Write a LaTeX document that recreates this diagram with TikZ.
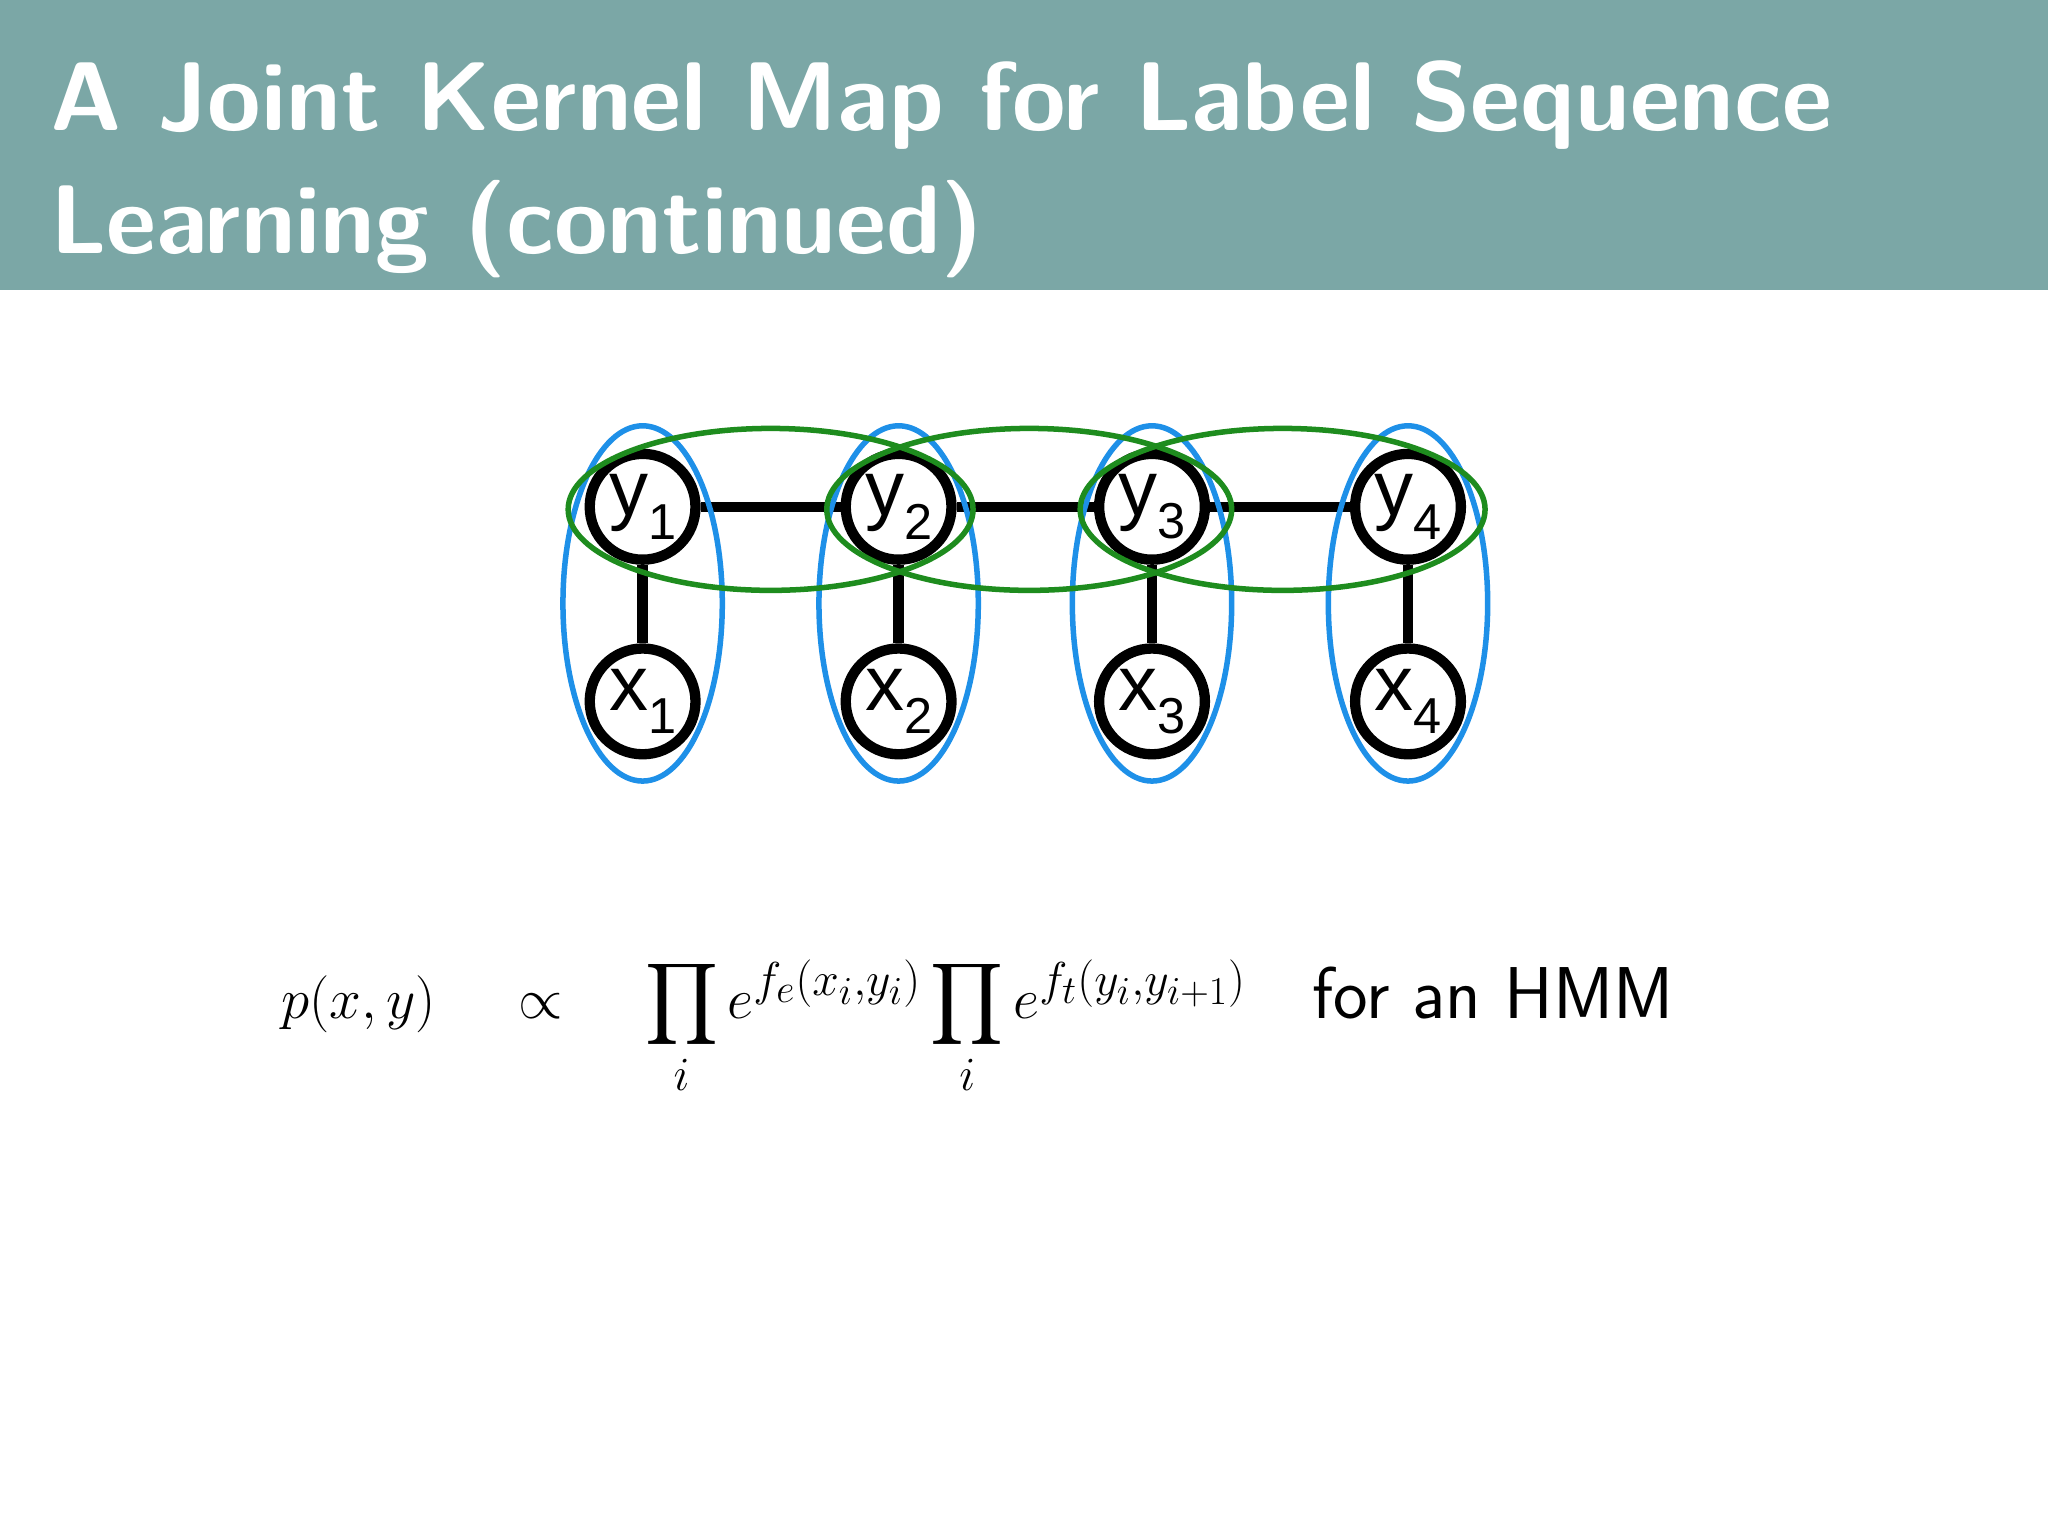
\documentclass[tikz,border=0pt]{standalone}
\usepackage{fontspec}
\usepackage{amsmath}
\newfontfamily\arialf{Liberation Sans}
\definecolor{hdr}{HTML}{7BA7A6}
\definecolor{ebl}{HTML}{1E90E8}
\definecolor{egr}{HTML}{1E8C1E}
\tikzset{
 vnode/.style={circle,draw=black,fill=white,line width=4.5pt,minimum size=1.62cm,inner sep=0pt,font=\arialf\fontsize{34}{34}\selectfont},
 edge/.style={line width=4.5pt},
 bell/.style={draw=ebl,line width=2.4pt},
 gell/.style={draw=egr,line width=2.4pt}
}
\begin{document}
\begin{tikzpicture}[x=0.02cm,y=-0.02cm]
\useasboundingbox (0,0) rectangle (1568,1176);
\fill[white] (0,0) rectangle (1568,1176);
\fill[hdr] (0,0) rectangle (1568,222);
\node[anchor=base west,text=white,font=\sffamily\bfseries\fontsize{42.5}{42.5}\selectfont,inner sep=0] at (38,100) {A Joint Kernel Map for Label Sequence};
\node[anchor=base west,text=white,font=\sffamily\bfseries\fontsize{42.5}{42.5}\selectfont,inner sep=0] at (38,194) {Learning (continued)};
\foreach \i/\x in {1/492,2/688,3/882,4/1078}{
  \node[vnode] (y\i) at (\x,388) {y\raisebox{-0.3em}{\arialf\fontsize{22}{22}\selectfont\i}};
  \node[vnode] (x\i) at (\x,537) {x\raisebox{-0.3em}{\arialf\fontsize{22}{22}\selectfont\i}};
}
\foreach \i in {1,...,4}{\draw[edge] (y\i) -- (x\i);}
\draw[edge] (y1) -- (y2); \draw[edge] (y2) -- (y3); \draw[edge] (y3) -- (y4);
\foreach \x in {492,688,882,1078}{\draw[bell] (\x,462) ellipse [x radius=61,y radius=136];}
\foreach \x in {590,788,982}{\draw[gell] (\x,390) ellipse [x radius=155,y radius=62];}
\node[anchor=base west,inner sep=0,font=\fontsize{32}{32}\selectfont] (f) at (215,780)
 {$p(x,y)\ \ \ \propto\ \ \ \displaystyle\prod_i e^{f_e(x_i,y_i)}\prod_i e^{f_t(y_i,y_{i+1})}$\ \ \ \sffamily for an HMM};
\end{tikzpicture}
\end{document}
